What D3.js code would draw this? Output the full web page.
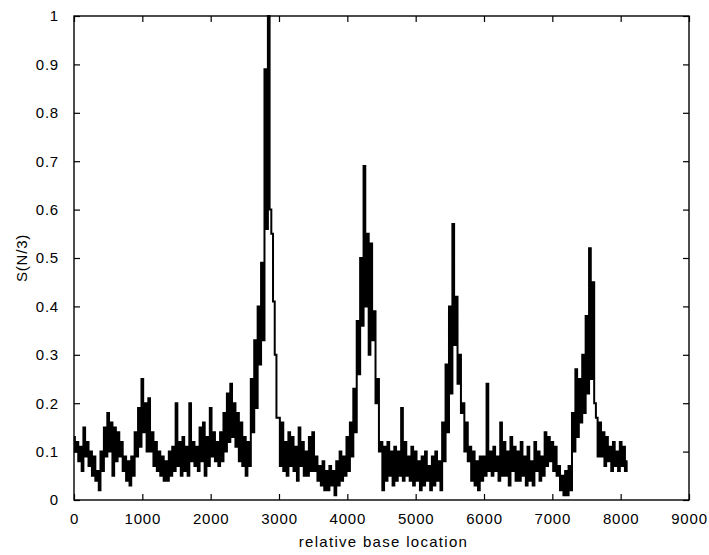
<!DOCTYPE html>
<html>
<head>
<meta charset="utf-8">
<script src="https://cdn.jsdelivr.net/npm/d3@7/dist/d3.min.js"></script>
<style>
  html, body { margin: 0; padding: 0; background: #fff; }
  svg { display: block; }
  text { font-family: "Liberation Sans", Arial, Helvetica, sans-serif; fill: #000; }
</style>
</head>
<body>
<svg id="chart" width="709" height="555"></svg>
<script>
// ---- data ----
const xStep = 25; // relative base location spacing between samples
const values = [
  0.13,0.10,0.12,0.08,  0.11,0.06,0.15,0.09,  0.12,0.07,0.10,0.05,  0.09,0.04,0.06,0.02,
  0.10,0.06,0.15,0.09,  0.18,0.10,0.16,0.05,  0.15,0.08,0.14,0.09,  0.12,0.06,0.09,0.04,
  0.08,0.03,0.09,0.05,  0.14,0.09,0.19,0.11,  0.25,0.14,0.20,0.10,  0.21,0.10,0.14,0.07,
  0.12,0.06,0.10,0.05,  0.09,0.04,0.08,0.04,  0.10,0.05,0.11,0.06,  0.20,0.07,0.12,0.05,
  0.13,0.06,0.11,0.05,  0.20,0.08,0.12,0.07,  0.11,0.06,0.15,0.08,  0.16,0.05,0.13,0.07,
  0.19,0.09,0.14,0.08,  0.12,0.07,0.14,0.08,  0.18,0.10,0.22,0.12,  0.24,0.13,0.20,0.11,
  0.18,0.08,0.16,0.07,  0.13,0.05,0.12,0.07,  0.25,0.14,0.33,0.19,  0.40,0.28,0.49,0.33,
  0.89,0.56,1.00,0.60,  0.55,0.41,0.30,0.17,  0.17,0.07,0.16,0.06,  0.12,0.05,0.14,0.07,
  0.13,0.06,0.11,0.04,  0.15,0.07,0.12,0.05,  0.10,0.05,0.13,0.06,  0.14,0.06,0.09,0.04,
  0.07,0.03,0.08,0.02,  0.06,0.02,0.07,0.03,  0.06,0.01,0.08,0.03,  0.10,0.04,0.09,0.05,
  0.13,0.06,0.16,0.09,  0.23,0.14,0.37,0.26,  0.50,0.36,0.69,0.40,  0.55,0.30,0.53,0.33,
  0.39,0.20,0.25,0.10,  0.12,0.02,0.11,0.04,  0.12,0.05,0.10,0.03,  0.11,0.04,0.10,0.05,
  0.19,0.04,0.12,0.05,  0.09,0.04,0.11,0.03,  0.10,0.04,0.08,0.02,  0.09,0.03,0.10,0.04,
  0.07,0.02,0.09,0.03,  0.10,0.04,0.08,0.02,  0.16,0.08,0.28,0.14,  0.40,0.22,0.57,0.32,
  0.42,0.24,0.30,0.18,  0.20,0.10,0.16,0.08,  0.11,0.04,0.10,0.03,  0.08,0.02,0.09,0.04,
  0.09,0.05,0.24,0.06,  0.10,0.05,0.11,0.06,  0.09,0.04,0.16,0.05,  0.12,0.05,0.10,0.03,
  0.13,0.06,0.11,0.04,  0.10,0.04,0.12,0.05,  0.09,0.03,0.11,0.04,  0.08,0.03,0.12,0.06,
  0.10,0.04,0.09,0.05,  0.14,0.07,0.13,0.08,  0.12,0.06,0.11,0.05,  0.07,0.02,0.05,0.01,
  0.06,0.01,0.07,0.02,  0.18,0.10,0.27,0.13,  0.25,0.16,0.30,0.18,  0.38,0.22,0.52,0.25,
  0.45,0.20,0.17,0.09,  0.16,0.09,0.14,0.07,  0.13,0.08,0.11,0.06,  0.12,0.07,0.10,0.06,
  0.12,0.07,0.11,0.06,  0.08
];
const xTicks = [0, 1000, 2000, 3000, 4000, 5000, 6000, 7000, 8000, 9000];
const yTicks = [0, 0.1, 0.2, 0.3, 0.4, 0.5, 0.6, 0.7, 0.8, 0.9, 1];
const xLabel = "relative base location";
const yLabel = "S(N/3)";

(function () {
  // ---- layout ----
  const svg = d3.select("#chart");
  const mLeft = 74, mRight = 689, mTop = 16, mBottom = 500;
  const x = d3.scaleLinear().domain([0, 9000]).range([mLeft, mRight]);
  const y = d3.scaleLinear().domain([0, 1]).range([mBottom, mTop]);

  const data = values.map((v, i) => ({ x: i * xStep, y: v }));

  // dense step-like trace
  const line = d3.line().curve(d3.curveStep).x(d => x(d.x)).y(d => y(d.y));
  svg.append("path")
    .datum(data)
    .attr("d", line)
    .attr("fill", "none")
    .attr("stroke", "#000")
    .attr("stroke-width", 2)
    .attr("stroke-linejoin", "miter");

  // axes (MATLAB style: inward ticks on all sides)
  const tickLen = 6;
  const fmtX = d => String(d);
  const fmtY = d => String(+d.toFixed(1));

  const gBottom = svg.append("g").attr("transform", `translate(0,${mBottom})`)
    .call(d3.axisBottom(x).tickValues(xTicks).tickSize(-tickLen).tickPadding(13).tickFormat(fmtX));
  const gTop = svg.append("g").attr("transform", `translate(0,${mTop})`)
    .call(d3.axisTop(x).tickValues(xTicks).tickSize(-tickLen).tickFormat(""));
  const gLeft = svg.append("g").attr("transform", `translate(${mLeft},0)`)
    .call(d3.axisLeft(y).tickValues(yTicks).tickSize(-tickLen).tickPadding(15).tickFormat(fmtY));
  const gRight = svg.append("g").attr("transform", `translate(${mRight},0)`)
    .call(d3.axisRight(y).tickValues(yTicks).tickSize(-tickLen).tickFormat(""));

  [gBottom, gTop, gLeft, gRight].forEach(g => {
    g.select(".domain").remove();
    g.selectAll(".tick line").attr("stroke", "#000").attr("stroke-width", 1.2);
    g.selectAll(".tick text")
      .attr("font-family", "'Liberation Sans', Arial, sans-serif")
      .attr("font-size", 15)
      .attr("letter-spacing", "0.8px")
      .attr("fill", "#000");
  });

  // box
  svg.append("rect")
    .attr("x", mLeft).attr("y", mTop)
    .attr("width", mRight - mLeft).attr("height", mBottom - mTop)
    .attr("fill", "none").attr("stroke", "#000").attr("stroke-width", 1.4);

  // axis labels
  svg.append("text")
    .attr("x", (mLeft + mRight) / 2 + 2)
    .attr("y", 547)
    .attr("text-anchor", "middle")
    .attr("font-size", 15)
    .attr("letter-spacing", "1.3px")
    .text(xLabel);

  svg.append("text")
    .attr("transform", `translate(27,${(mTop + mBottom) / 2}) rotate(-90)`)
    .attr("text-anchor", "middle")
    .attr("font-size", 15)
    .attr("letter-spacing", "0.8px")
    .text(yLabel);
})();
</script>
</body>
</html>
